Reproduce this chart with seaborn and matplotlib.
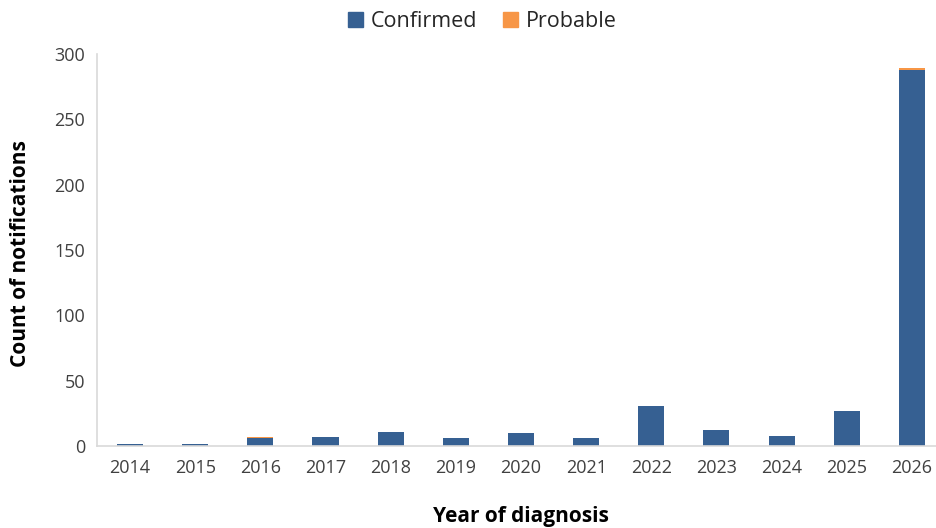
import matplotlib
matplotlib.use("Agg")
import matplotlib.pyplot as plt
import seaborn as sns
import pandas as pd
from matplotlib.patches import Patch

years = ["2014", "2015", "2016", "2017", "2018", "2019", "2020",
         "2021", "2022", "2023", "2024", "2025", "2026"]
confirmed = [2, 2, 6, 7, 11, 6, 10, 6, 31, 12, 8, 27, 288]
probable = [0, 0, 1, 0, 0, 0, 0, 0, 0, 0, 0, 0, 1]

blue = "#366092"
orange = "#F79646"

sns.set_theme(style="white")
plt.rcParams["font.family"] = ["Open Sans", "DejaVu Sans"]

df = pd.DataFrame({"year": years, "confirmed": confirmed, "probable": probable})
df["total"] = df["confirmed"] + df["probable"]

fig = plt.figure(figsize=(9.37, 5.28), dpi=100)
ax = fig.add_axes([0.104, 0.155, 0.904, 0.743])

# stacked bars: total (probable on top) first, confirmed drawn over it
sns.barplot(data=df, x="year", y="total", color=orange, width=0.4,
            saturation=1, linewidth=0, edgecolor="none", ax=ax)
sns.barplot(data=df, x="year", y="confirmed", color=blue, width=0.4,
            saturation=1, linewidth=0, edgecolor="none", ax=ax)

ax.set_xlim(-0.5, 12.5)
ax.set_ylim(0, 300)
ax.set_yticks(range(0, 301, 50))
ax.set_xlabel("Year of diagnosis", fontsize=15, fontweight="bold", color="black")
ax.xaxis.set_label_coords(0.5, -0.152)
ax.set_ylabel("Count of notifications", fontsize=15, fontweight="bold", color="black")
ax.yaxis.set_label_coords(-0.079, 0.49)
ax.tick_params(axis="both", labelsize=13, colors="#404040", length=0, pad=9)

for side in ["top", "right"]:
    ax.spines[side].set_visible(False)
for side in ["left", "bottom"]:
    ax.spines[side].set_color("#d9d9d9")
    ax.spines[side].set_linewidth(1.2)

handles = [Patch(color=blue, label="Confirmed"), Patch(color=orange, label="Probable")]
fig.legend(handles=handles, loc="upper center", bbox_to_anchor=(0.515, 1.015), ncol=2,
           frameon=False, fontsize=15.5, handlelength=0.7, handleheight=0.7,
           handletextpad=0.35, columnspacing=1.2)

fig.savefig("out.png", dpi=100)
